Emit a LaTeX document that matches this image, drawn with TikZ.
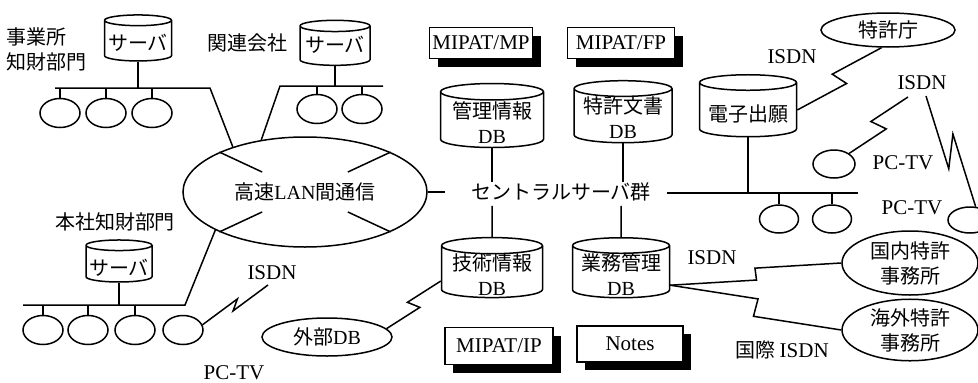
\documentclass[tikz,border=0pt]{standalone}
\usepackage{fontspec}
\setmainfont{Liberation Serif}
\newfontfamily\jp{Noto Sans CJK JP}
\usetikzlibrary{shapes.geometric,shadows,calc,positioning}

\begin{document}
\begin{tikzpicture}[x=1pt,y=-1pt,
    line width=1.5pt,
    font=\fontsize{20}{25}\selectfont\jp,
    en/.style={font=\fontsize{21}{25}\selectfont\rmfamily},
    lbl/.style={inner sep=0pt},
    dtext/.style={align=center,inner sep=0pt},
    term/.style={ellipse,draw,minimum width=40pt,minimum height=29pt,inner sep=0pt},
    site/.style={ellipse,draw,inner sep=0pt,align=center},
    dbase/.style 2 args={cylinder,shape border rotate=90,draw,aspect=0.16,inner sep=0pt,
      text width=#1,minimum height=#2},
    tool/.style={rectangle,draw,fill=white,inner sep=0pt,
      drop shadow={shadow xshift=8pt,shadow yshift=-8pt,fill=black,opacity=1}},
    isdn/.style 2 args={to path={let \p1=(\tikztostart),\p2=(\tikztotarget),
      \n1={atan2(\y2-\y1,\x2-\x1)} in
      -- ($(\p1)!0.5!(\p2)+(\n1:#1)+(\n1-90:#2)$)
      -- ($(\p1)!0.5!(\p2)+(\n1:-#1)+(\n1+90:#2)$)
      -- (\tikztotarget)}}
  ]
  \useasboundingbox (0,0) rectangle (978,383);

  \node[ellipse,draw,minimum width=244pt,minimum height=110pt,inner sep=0pt] (lan) at (305,192) {高速{\rmfamily LAN}間通信};
  \foreach \a in {155,25,205,335}
    \draw (lan.\a) -- ($(lan.\a)!0.5!(lan.center)$);

  \node[lbl,align=left,anchor=west] (jigyo) at (6,49) {事業所\\知財部門};
  \node[dbase={67pt}{46pt},label={[dtext,yshift=-2pt]center:サーバ}] (srv1) at (138,41) {};
  \coordinate (b1w) at (55,88);
  \coordinate (b1e) at (210,88);
  \draw (b1w) -- (b1e) -- (lan.148);
  \draw (srv1) -- (srv1 |- b1w);
  \foreach \n/\x in {1/60,2/106,3/152}{
    \node[term] (ta\n) at (\x,113) {};
    \draw (ta\n) -- (ta\n |- b1w);
  }

  \node[lbl] (kanren) at (247,43) {関連会社};
  \node[dbase={70pt}{45pt},label={[dtext,yshift=1pt]center:サーバ}] (srv2) at (335,46) {};
  \coordinate (b2w) at (280,86);
  \coordinate (b2e) at (383,86);
  \draw (lan.130) -- (b2w) -- (b2e);
  \draw (srv2) -- (srv2 |- b2w);
  \foreach \n/\x in {1/317,2/362}{
    \node[term] (tb\n) at (\x,109) {};
    \draw (tb\n) -- (tb\n |- b2w);
  }

  \node[lbl] (honsha) at (115,222) {本社知財部門};
  \node[dbase={66pt}{42pt},label={[dtext,yshift=-4pt]center:サーバ}] (srv3) at (119,264) {};
  \coordinate (b3w) at (23,305);
  \coordinate (b3e) at (185,305);
  \draw (lan.203) -- (b3e) -- (b3w);
  \draw (srv3) -- (srv3 |- b3w);
  \foreach \n/\x in {1/43,2/88,3/135,4/183}
    \node[term] (tc\n) at (\x,330) {};
  \foreach \n in {1,2,3}
    \draw (tc\n) -- (tc\n |- b3w);
  \node[en,lbl] (isdnd) at (272,273) {ISDN};
  \coordinate (isdndl) at (268,285);
  \draw (tc4.15) to[isdn={5pt}{-4pt}] (isdndl);
  \node[en,lbl] (pctvc) at (234,373) {PC-TV};

  \coordinate (lanr) at (445,192);
  \draw (lan) -- (lanr);
  \node[lbl] (grp) at (561,192) {セントラルサーバ群};
  \coordinate (cbw) at (667,193);
  \coordinate (cbe) at (858,193);
  \draw (cbw) -- (cbe);

  \node[tool,en,minimum width=103pt,minimum height=31pt] (mp) at (481,43) {MIPAT/MP};
  \node[tool,en,minimum width=107pt,minimum height=31pt] (fp) at (621,43) {MIPAT/FP};
  \node[tool,en,minimum width=108pt,minimum height=37pt] (ip) at (499,346) {MIPAT/IP};
  \node[tool,en,minimum width=106pt,minimum height=36pt] (notes) at (630,344) {Notes};

  \node[dbase={103pt}{64pt},label={[dtext,yshift=-3pt]center:管理情報\\\rmfamily DB}] (db1) at (492,120) {};
  \node[dbase={98pt}{62pt},label={[dtext,yshift=-2pt]center:特許文書\\\rmfamily DB}] (db2) at (623,116) {};
  \node[dbase={97pt}{62pt},label={[dtext,yshift=-4pt]center:電子出願}] (db3) at (748,110) {};
  \node[dbase={101pt}{60pt},label={[dtext,yshift=-3pt]center:技術情報\\\rmfamily DB}] (db4) at (492,272) {};
  \node[dbase={97pt}{60pt},label={[dtext,yshift=-3pt]center:業務管理\\\rmfamily DB}] (db5) at (621,272) {};
  \foreach \d in {db1,db2}
    \draw (\d) -- (\d |- grp.north);
  \foreach \d in {db4,db5}
    \draw (\d) -- ([yshift=-4pt]\d |- grp.south);
  \draw (db3) -- (db3 |- cbw);
  \foreach \n/\x in {1/779,2/832}{
    \node[term,minimum width=39pt,minimum height=28pt] (td\n) at (\x,219) {};
    \draw (td\n) -- (td\n |- cbw);
  }

  \node[site,minimum width=134pt,minimum height=34pt] (jpo) at (888,30) {特許庁};
  \node[en,lbl] (isdna) at (792,57) {ISDN};
  \draw (db3.east) to[isdn={3pt}{8pt}] (jpo.250);

  \node[term,minimum width=42pt,minimum height=28pt] (pc1) at (834,164) {};
  \node[term,minimum width=44pt,minimum height=26pt] (pc2) at (970,220) {};
  \node[en,lbl] (isdnb) at (922,83) {ISDN};
  \coordinate (isdnbl) at (908,97);
  \coordinate (isdnbr) at (926,96);
  \draw (pc1.35) to[isdn={3pt}{8pt}] (isdnbl);
  \draw (isdnbr) to[isdn={15pt}{9pt}] (pc2.67);
  \node[en,lbl] (pctva) at (903,163) {PC-TV};
  \node[en,lbl] (pctvb) at (912,208) {PC-TV};

  \node[site,minimum width=136pt,minimum height=64pt] (domestic) at (910,263) {国内特許\\事務所};
  \node[site,minimum width=136pt,minimum height=58pt] (foreign) at (910,330) {海外特許\\事務所};
  \node[en,lbl] (isdnc) at (712,258) {ISDN};
  \node[lbl] (intl) at (782,350) {国際 {\fontsize{21}{25}\selectfont\rmfamily ISDN}};
  \draw (db5.-15) to[isdn={0pt}{6pt}] (domestic.west);
  \draw (db5.-15) to[isdn={0pt}{-9pt}] (foreign.west);

  \node[site,minimum width=130pt,minimum height=38pt] (extdb) at (327,337) {外部{\rmfamily DB}};
  \draw (extdb.8) to[isdn={3pt}{6pt}] (db4.190);
\end{tikzpicture}
\end{document}
